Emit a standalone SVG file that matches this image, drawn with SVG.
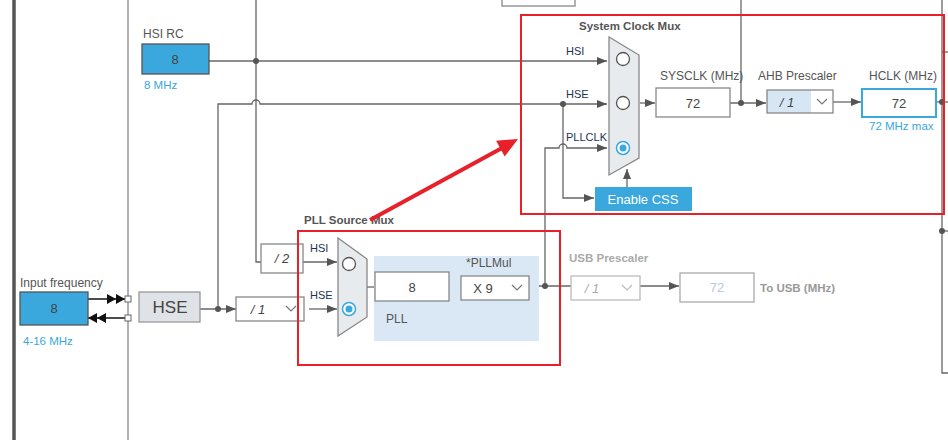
<svg xmlns="http://www.w3.org/2000/svg" width="948" height="440" viewBox="0 0 948 440">
<defs>
<marker id="ah" markerWidth="10" markerHeight="8" refX="10" refY="4" orient="auto" markerUnits="userSpaceOnUse"><path d="M0,0 L10,4 L0,8 z" fill="#555"/></marker>
<marker id="dbl" markerWidth="18" markerHeight="10" refX="18" refY="5" orient="auto" markerUnits="userSpaceOnUse"><path d="M0,0 L9,5 L0,10 z M9,0 L18,5 L9,10 z" fill="#111"/></marker>
<style>
.ln{fill:none;stroke:#666;stroke-width:1.3}
.lbl{font-family:"Liberation Sans",Arial,sans-serif;font-size:12px;fill:#555}
.blbl{font-family:"Liberation Sans",Arial,sans-serif;font-size:11.5px;fill:#555;font-weight:bold}
.val{font-family:"Liberation Sans",Arial,sans-serif;font-size:13px;fill:#444;text-anchor:middle}
.sub{font-family:"Liberation Sans",Arial,sans-serif;font-size:11.5px;fill:#3aa8dc}
.box{fill:#fff;stroke:#888;stroke-width:1.3}
.blue{fill:#3aa8dc;stroke:#555;stroke-width:1.3}
.mux{fill:#e8ebee;stroke:#888;stroke-width:1.3}
.dot{fill:#555}
.red{fill:none;stroke:#e8202a;stroke-width:2}
.chev{fill:none;stroke:#777;stroke-width:1.2}
.mlbl{font-family:"Liberation Sans",Arial,sans-serif;font-size:11px;fill:#223355}
</style>
</defs>
<rect width="948" height="440" fill="#fff"/>

<g id="frame">
<line x1="14" y1="0" x2="14" y2="440" stroke="#555" stroke-width="3.5"/>
<line x1="128" y1="0" x2="128" y2="440" stroke="#888" stroke-width="1.3"/>
<rect x="502" y="-10" width="73" height="16" class="box"/>
<path class="ln" d="M942,0 V373 H948"/>
<path class="ln" d="M942,52 H948"/>
</g>

<g id="connectors">
<path class="ln" d="M209,61 H607" marker-end="url(#ah)"/>
<path class="ln" d="M256,0 V262 H261"/>
<path class="ln" d="M218,309 V104 H252 A4,4 0 0 1 260,104 H607" marker-end="url(#ah)"/>
<path class="ln" d="M200,309 H236" marker-end="url(#ah)"/>
<path d="M88,299 H125" fill="none" stroke="#111" stroke-width="1.3" marker-end="url(#dbl)"/>
<path d="M125,318 H88" fill="none" stroke="#111" stroke-width="1.3" marker-end="url(#dbl)"/>
<path class="ln" d="M303,262 H337" marker-end="url(#ah)"/>
<path class="ln" d="M309,309 H337" marker-end="url(#ah)"/>
<path class="ln" d="M367,287 H375"/>
<path class="ln" d="M449,287 H461"/>
<path class="ln" d="M529,286 H571"/>
<path class="ln" d="M545,286 V148 H559 A4,4 0 0 1 567,148 H607" marker-end="url(#ah)"/>
<path class="ln" d="M563,104 V198 H594" marker-end="url(#ah)"/>
<path class="ln" d="M627,187 V169" marker-end="url(#ah)"/>
<path class="ln" d="M640,103 H655" marker-end="url(#ah)"/>
<path class="ln" d="M730,103 H766" marker-end="url(#ah)"/>
<path class="ln" d="M741,0 V103"/>
<path class="ln" d="M833,102 H861" marker-end="url(#ah)"/>
<path class="ln" d="M936,102 H948"/>
<path class="ln" d="M942,231 H948"/>
<path class="ln" d="M640,286 H679" marker-end="url(#ah)"/>
<circle class="dot" cx="256" cy="61" r="3"/>
<circle class="dot" cx="218" cy="309" r="3"/>
<circle class="dot" cx="563" cy="104" r="3"/>
<circle class="dot" cx="545" cy="286" r="3"/>
<circle class="dot" cx="741" cy="103" r="3"/>
<circle class="dot" cx="942" cy="102" r="3"/>
<circle class="dot" cx="942" cy="231" r="3"/>
<rect x="125" y="296" width="6" height="6" fill="#fff" stroke="#666"/>
<rect x="125" y="315" width="6" height="6" fill="#fff" stroke="#666"/>
</g>

<g id="hsi-rc">
<text class="lbl" x="143" y="38">HSI RC</text>
<rect class="blue" x="142" y="44" width="67" height="30"/>
<text class="val" x="175" y="64">8</text>
<text class="sub" x="144" y="89">8 MHz</text>
</g>

<g id="input-freq">
<text class="lbl" x="20" y="287">Input frequency</text>
<rect class="blue" x="20" y="292" width="68" height="33"/>
<text class="val" x="54" y="313">8</text>
<text class="sub" x="23" y="345">4-16 MHz</text>
</g>

<g id="hse">
<rect x="139" y="292" width="61" height="30" fill="#dfe2e6" stroke="#999" stroke-width="1.3"/>
<text class="val" x="170" y="313" style="font-size:17px">HSE</text>
</g>

<g id="div2">
<rect class="box" x="261" y="244" width="42" height="29"/>
<text class="val" x="282" y="263" style="font-style:italic">/ 2</text>
</g>

<g id="div1">
<rect class="box" x="236" y="297" width="68" height="24"/>
<text class="val" x="258" y="314" style="font-style:italic">/ 1</text>
<path class="chev" d="M286,306 L291,311 L296,306"/>
</g>

<g id="pll-source-mux">
<text class="blbl" x="304" y="224">PLL Source Mux</text>
<text class="mlbl" x="310" y="252">HSI</text>
<text class="mlbl" x="310" y="299">HSE</text>
<path class="mux" d="M338,238 L367,259 L367,317 L338,336 z"/>
<circle cx="349" cy="264" r="6.5" fill="#fff" stroke="#555" stroke-width="1.3"/>
<circle cx="349" cy="309" r="6.5" fill="#fff" stroke="#3aa8dc" stroke-width="1.5"/>
<circle cx="349" cy="309" r="3.5" fill="#3aa8dc"/>
</g>

<g id="pll">
<rect x="374" y="256" width="165" height="85" fill="#dae7f4"/>
<text class="lbl" x="466" y="267">*PLLMul</text>
<rect class="box" x="375" y="272" width="74" height="29"/>
<text class="val" x="412" y="292">8</text>
<rect class="box" x="461" y="276" width="68" height="24"/>
<text class="val" x="483" y="293">X 9</text>
<path class="chev" d="M512,285 L517,290 L522,285"/>
<text class="lbl" x="386" y="323">PLL</text>
</g>

<g id="system-clock-mux">
<text class="blbl" x="579" y="30">System Clock Mux</text>
<text class="mlbl" x="566" y="55">HSI</text>
<text class="mlbl" x="566" y="98">HSE</text>
<text class="mlbl" x="566" y="141">PLLCLK</text>
<path class="mux" d="M609,37 L639,55 L639,158 L609,175 z"/>
<circle cx="623" cy="59" r="6.5" fill="#fff" stroke="#555" stroke-width="1.3"/>
<circle cx="623" cy="103" r="6.5" fill="#fff" stroke="#555" stroke-width="1.3"/>
<circle cx="623" cy="148" r="6.5" fill="#fff" stroke="#3aa8dc" stroke-width="1.5"/>
<circle cx="623" cy="148" r="3.5" fill="#3aa8dc"/>
</g>

<g id="enable-css">
<rect x="595" y="187" width="97" height="24" fill="#3aa8dc"/>
<text class="val" x="643" y="204" style="fill:#fff">Enable CSS</text>
</g>

<g id="sysclk">
<text class="lbl" x="660" y="80">SYSCLK (MHz)</text>
<rect class="box" x="656" y="88" width="74" height="29"/>
<text class="val" x="693" y="108">72</text>
</g>

<g id="ahb">
<text class="lbl" x="758" y="80">AHB Prescaler</text>
<rect x="767" y="90" width="44" height="23" fill="#d6e6f5"/>
<rect x="767" y="90" width="66" height="23" fill="none" stroke="#888" stroke-width="1.3"/>
<text class="val" x="787" y="107" style="font-style:italic">/ 1</text>
<path class="chev" d="M817,99 L822,104 L827,99"/>
</g>

<g id="hclk">
<text class="lbl" x="869" y="80">HCLK (MHz)</text>
<rect x="862" y="89" width="74" height="28" fill="#fff" stroke="#3aa8dc" stroke-width="2"/>
<text class="val" x="899" y="108">72</text>
<text class="sub" x="869" y="130">72 MHz max</text>
</g>

<g id="usb">
<text class="blbl" x="569" y="262" style="fill:#aaa">USB Prescaler</text>
<rect x="571" y="276" width="69" height="24" fill="#fff" stroke="#bbb" stroke-width="1.3"/>
<text class="val" x="592" y="293" style="font-style:italic;fill:#aaa">/ 1</text>
<path d="M622,285 L627,290 L632,285" fill="none" stroke="#bbb" stroke-width="1.2"/>
<rect x="680" y="273" width="74" height="29" fill="#fff" stroke="#aaa" stroke-width="1.3"/>
<text class="val" x="717" y="292" style="fill:#b8c8dc">72</text>
<text class="blbl" x="760" y="292" style="fill:#999">To USB (MHz)</text>
</g>

<g id="highlights">
<rect class="red" x="521" y="15" width="423" height="199"/>
<rect class="red" x="298" y="231" width="262" height="134"/>
<line x1="370" y1="220" x2="502" y2="148" stroke="#e8202a" stroke-width="4"/>
<polygon points="518,139 504.7,156.5 496.1,140.7" fill="#e8202a"/>
</g>
</svg>
